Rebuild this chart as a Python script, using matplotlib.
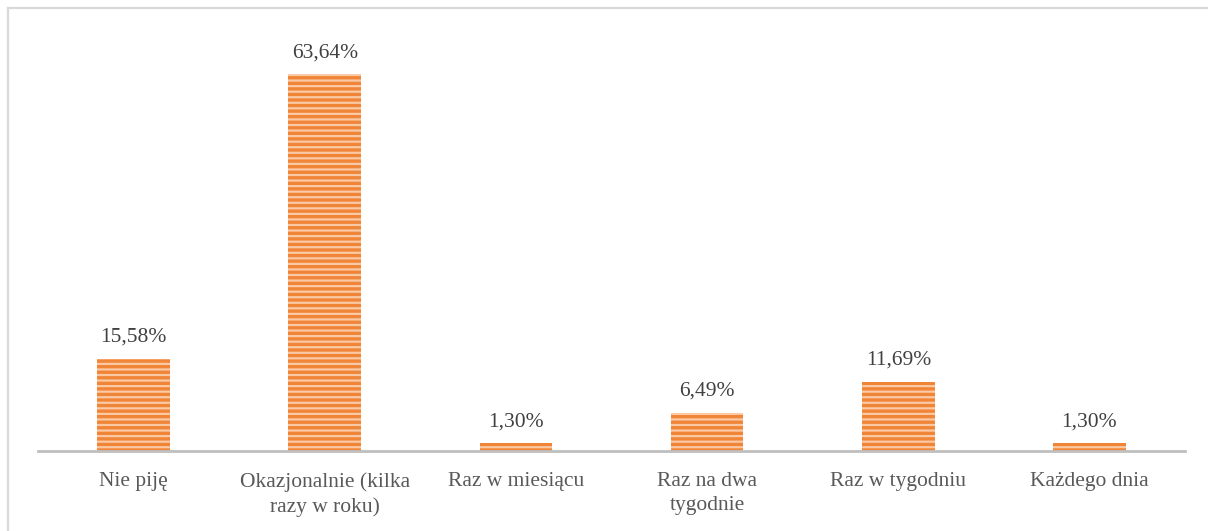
import matplotlib.pyplot as plt
from matplotlib.lines import Line2D

categories = ["Nie piję", "Okazjonalnie (kilka\nrazy w roku)", "Raz w miesiącu",
              "Raz na dwa\ntygodnie", "Raz w tygodniu", "Każdego dnia"]
values = [15.58, 63.64, 1.30, 6.49, 11.69, 1.30]
value_labels = ["15,58%", "63,64%", "1,30%", "6,49%", "11,69%", "1,30%"]

plt.rcParams['font.family'] = ['Liberation Serif', 'DejaVu Serif']
plt.rcParams['hatch.linewidth'] = 1.6

fig = plt.figure(figsize=(12.08, 5.31), dpi=100)
ax = fig.add_axes([0.0315, 0.1507, 0.9495, 0.78])

x = range(len(categories))
bars = ax.bar(x, values, width=0.38, color='#F08437', edgecolor='#FBC9A3',
              hatch='---', linewidth=0)

for b, lab in zip(bars, value_labels):
    ax.text(b.get_x() + b.get_width() / 2, b.get_height() + 2.0, lab,
            ha='center', va='bottom', fontsize=15.5, color='#404040')

ax.set_xlim(-0.5, len(categories) - 0.5)
ax.set_ylim(0, 70)
ax.set_xticks(list(x))
ax.set_xticklabels(categories, fontsize=15.5, color='#595959', linespacing=1.4)
ax.tick_params(axis='x', length=0, pad=15)
ax.set_yticks([])
for s in ['top', 'right', 'left']:
    ax.spines[s].set_visible(False)
ax.spines['bottom'].set_color('#BFBFBF')
ax.spines['bottom'].set_linewidth(2)

# outer frame (only top and left edges visible)
fig.add_artist(Line2D([8 / 1208, 1], [1 - 8 / 531, 1 - 8 / 531],
                      transform=fig.transFigure, color='#D9D9D9', lw=1.6))
fig.add_artist(Line2D([8 / 1208, 8 / 1208], [0, 1 - 8 / 531],
                      transform=fig.transFigure, color='#D9D9D9', lw=1.6))

fig.savefig('out.png', dpi=100)
